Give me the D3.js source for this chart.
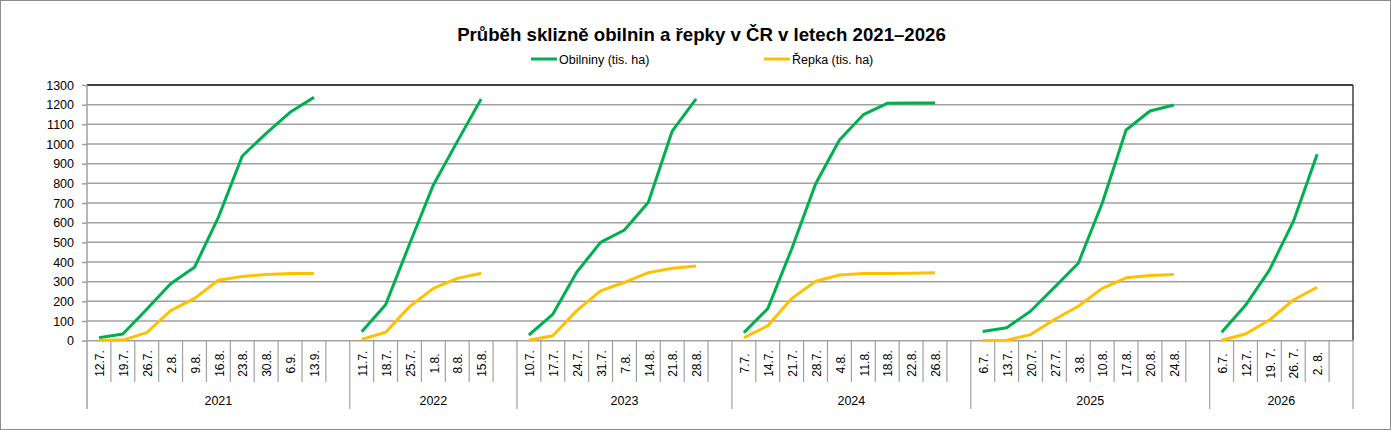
<!DOCTYPE html>
<html><head><meta charset="utf-8">
<script src="https://cdn.jsdelivr.net/npm/d3@7"></script>
<style>
html,body{margin:0;padding:0;background:#fff;}
svg{display:block;font-family:"Liberation Sans",Arial,sans-serif;}
</style></head>
<body>
<svg id="chart" width="1391" height="430"></svg>
<script>
const years = ["2021","2022","2023","2024","2025","2026"];
const dates2021 = ["12.7.","19.7.","26.7.","2.8.","9.8.","16.8.","23.8.","30.8.","6.9.","13.9."];
const dates2022 = ["11.7.","18.7.","25.7.","1.8.","8.8.","15.8."];
const dates2023 = ["10.7.","17.7.","24.7.","31.7.","7.8.","14.8.","21.8.","28.8."];
const dates2024 = ["7.7.","14.7.","21.7.","28.7.","4.8.","11.8.","18.8.","22.8.","26.8."];
const dates2025 = ["6.7.","13.7.","20.7.","27.7.","3.8.","10.8.","17.8.","20.8.","24.8."];
const dates2026 = ["6.7.","12.7.","19. 7.","26. 7.","2. 8."];

const cereals2021 = [15,34,160,290,373,627,939,1054,1161,1237];
const cereals2022 = [46,183,490,792,1012,1229];
const cereals2023 = [29,134,348,500,563,704,1066,1229];
const cereals2024 = [41,163,466,797,1020,1149,1207,1209,1209];
const cereals2025 = [47,66,150,271,394,699,1071,1168,1198];
const cereals2026 = [43,180,359,605,948];

const rapeseed2021 = [2,3,41,153,215,307,327,337,342,342];
const rapeseed2022 = [7,43,173,266,317,343];
const rapeseed2023 = [2,25,153,253,297,346,368,380];
const rapeseed2024 = [15,76,214,302,334,342,342,343,345];
const rapeseed2025 = [1,2,31,108,175,266,320,332,336];
const rapeseed2026 = [2,34,105,207,272];

const yTicks = [0,100,200,300,400,500,600,700,800,900,1000,1100,1200,1300];
const titleText = "Průběh sklizně obilnin a řepky v ČR v letech 2021–2026";
const seriesNames = ["Obilniny (tis. ha)","Řepka (tis. ha)"];
const colors = ["#00B050","#FFC000"];

const datesByYear = [dates2021,dates2022,dates2023,dates2024,dates2025,dates2026];
const cerealsByYear = [cereals2021,cereals2022,cereals2023,cereals2024,cereals2025,cereals2026];
const rapeByYear = [rapeseed2021,rapeseed2022,rapeseed2023,rapeseed2024,rapeseed2025,rapeseed2026];

// slots: each year's dates followed by one empty category
const slots = [];
years.forEach((yr,i)=>{
  datesByYear[i].forEach(d=>slots.push({year:yr,label:d,key:yr+"|"+d}));
  slots.push({year:yr,label:"",key:yr+"|_blank"});
});

const svg = d3.select("#chart");
const L = 87, R = 1353, T = 85, B = 340.7;

const x = d3.scaleBand().domain(slots.map(s=>s.key)).range([L,R]).padding(0);
const y = d3.scaleLinear().domain([0,1300]).range([B,T]);
const bw = x.bandwidth();

// outer border
svg.append("rect").attr("x",0.5).attr("y",0.5).attr("width",1390).attr("height",429)
  .attr("fill","#fff").attr("stroke","#8c8c8c").attr("stroke-width",1);

// gridlines
svg.append("g").selectAll("line").data(yTicks.filter(t=>t>0 && t<1300)).join("line")
  .attr("x1",L).attr("x2",R).attr("y1",d=>y(d)).attr("y2",d=>y(d))
  .attr("stroke","#a0a0a0").attr("stroke-width",1.5);

// plot area border (top/right dark)
svg.append("line").attr("x1",L).attr("x2",R).attr("y1",y(1300)).attr("y2",y(1300))
  .attr("stroke","#404040").attr("stroke-width",2);
svg.append("line").attr("x1",R).attr("x2",R).attr("y1",y(1300)).attr("y2",B)
  .attr("stroke","#404040").attr("stroke-width",1.5);

// y axis
const yAxis = d3.axisLeft(y).tickValues(yTicks).tickFormat(d3.format("d")).tickSize(5).tickPadding(8);
const gy = svg.append("g").attr("transform",`translate(${L},0)`).call(yAxis);
gy.select(".domain").remove();
gy.selectAll(".tick line").attr("stroke","#a0a0a0").attr("stroke-width",1.5);
gy.selectAll(".tick text").attr("font-size",12.5).attr("fill","#000")
  .attr("font-family","'Liberation Sans',Arial,sans-serif");

// x axis base line
svg.append("line").attr("x1",L).attr("x2",R).attr("y1",B).attr("y2",B)
  .attr("stroke","#a0a0a0").attr("stroke-width",1.5);

// category separators
const gx = svg.append("g");
slots.forEach((s,i)=>{
  const xl = x(s.key);
  const isGroupStart = i===0 || slots[i-1].year!==s.year;
  gx.append("line").attr("x1",xl).attr("x2",xl).attr("y1",i===0?T:B).attr("y2",isGroupStart?409:382)
    .attr("stroke","#a0a0a0").attr("stroke-width",i===0?1.5:1.2);
});
gx.append("line").attr("x1",R).attr("x2",R).attr("y1",B).attr("y2",409)
  .attr("stroke","#a0a0a0").attr("stroke-width",1.2);

// date labels
gx.selectAll("text.date").data(slots.filter(s=>s.label)).join("text")
  .attr("class","date")
  .attr("transform",d=>`translate(${x(d.key)+bw/2+1},363.5) rotate(-90)`)
  .attr("text-anchor","middle").attr("dy","0.35em")
  .attr("font-size",12).attr("fill","#000").text(d=>d.label);

// year labels
years.forEach((yr,i)=>{
  const ys = slots.filter(s=>s.year===yr);
  const x0 = x(ys[0].key), x1 = x(ys[ys.length-1].key)+bw;
  gx.append("text").attr("x",(x0+x1)/2).attr("y",405).attr("text-anchor","middle")
    .attr("font-size",12.5).attr("fill","#000").text(yr);
});

// lines
const line = d3.line().x(d=>x(d.key)+bw/2).y(d=>y(d.v));
[cerealsByYear, rapeByYear].forEach((ser,si)=>{
  years.forEach((yr,i)=>{
    const pts = datesByYear[i].map((d,j)=>({key:yr+"|"+d, v:ser[i][j]}));
    svg.append("path").attr("d",line(pts)).attr("fill","none")
      .attr("stroke",colors[si]).attr("stroke-width",3).attr("stroke-linejoin","round");
  });
});

// title
const title = svg.append("text").attr("x",701.5).attr("y",40.5).attr("text-anchor","middle")
  .attr("font-weight","bold").attr("font-size",17).attr("fill","#000").text(titleText);
const tw = title.node().getComputedTextLength();
title.attr("font-size",17*489/tw);

// legend
const legX = [531,764];
seriesNames.forEach((n,i)=>{
  svg.append("line").attr("x1",legX[i]).attr("x2",legX[i]+26).attr("y1",59).attr("y2",59)
    .attr("stroke",colors[i]).attr("stroke-width",3);
  svg.append("text").attr("x",legX[i]+28).attr("y",63.5).attr("font-size",12.5)
    .attr("fill","#000").text(n);
});
</script>
</body></html>
